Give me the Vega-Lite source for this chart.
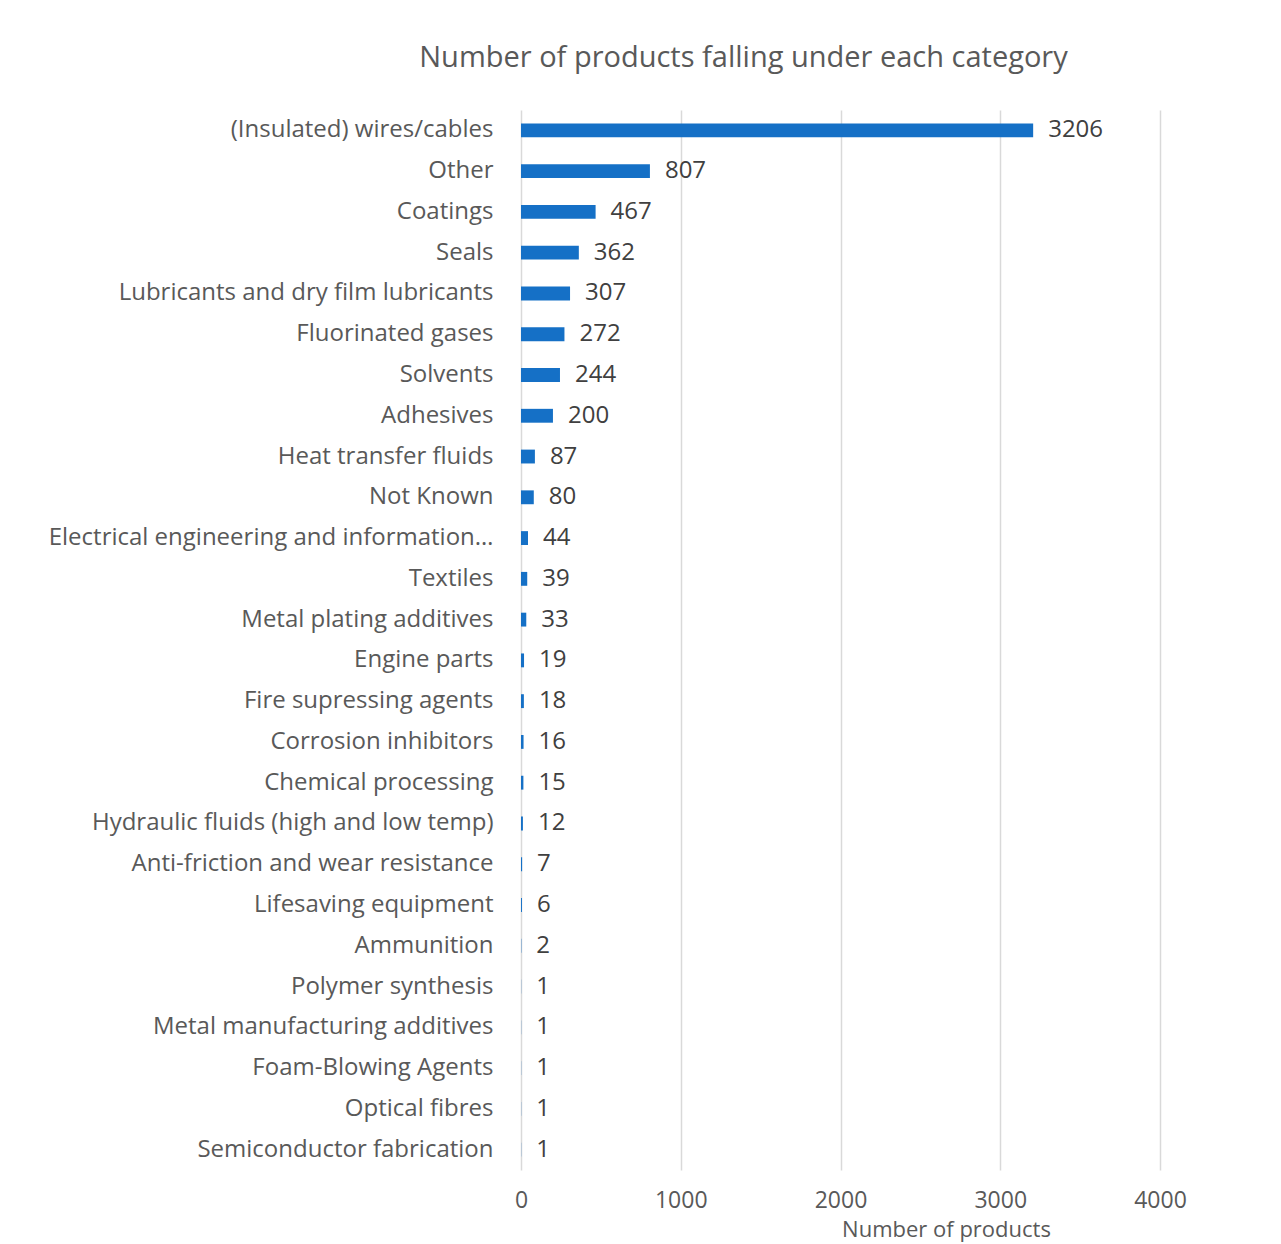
{
  "$schema": "https://vega.github.io/schema/vega-lite/v6.json",
  "width": 639,
  "height": 1060,
  "autosize": "none",
  "padding": {"left": 521, "top": 110, "right": 121, "bottom": 74},
  "background": "white",
  "config": {"view": {"stroke": null}, "font": "Open Sans"},
  "title": {
    "text": "Number of products falling under each category",
    "font": "Open Sans",
    "fontSize": 29,
    "fontWeight": "normal",
    "color": "#595959",
    "anchor": "middle",
    "dx": -97,
    "offset": 37
  },
  "data": {
    "values": [
      {"category": "(Insulated) wires/cables", "count": 3206},
      {"category": "Other", "count": 807},
      {"category": "Coatings", "count": 467},
      {"category": "Seals", "count": 362},
      {"category": "Lubricants and dry film lubricants", "count": 307},
      {"category": "Fluorinated gases", "count": 272},
      {"category": "Solvents", "count": 244},
      {"category": "Adhesives", "count": 200},
      {"category": "Heat transfer fluids", "count": 87},
      {"category": "Not Known", "count": 80},
      {"category": "Electrical engineering and information…", "count": 44},
      {"category": "Textiles", "count": 39},
      {"category": "Metal plating additives", "count": 33},
      {"category": "Engine parts", "count": 19},
      {"category": "Fire supressing agents", "count": 18},
      {"category": "Corrosion inhibitors", "count": 16},
      {"category": "Chemical processing", "count": 15},
      {"category": "Hydraulic fluids (high and low temp)", "count": 12},
      {"category": "Anti-friction and wear resistance", "count": 7},
      {"category": "Lifesaving equipment", "count": 6},
      {"category": "Ammunition", "count": 2},
      {"category": "Polymer synthesis", "count": 1},
      {"category": "Metal manufacturing additives", "count": 1},
      {"category": "Foam-Blowing Agents", "count": 1},
      {"category": "Optical fibres", "count": 1},
      {"category": "Semiconductor fabrication", "count": 1}
    ]
  },
  "encoding": {
    "y": {
      "field": "category",
      "type": "nominal",
      "sort": null,
      "scale": {"paddingInner": 0.66, "paddingOuter": 0.33},
      "axis": {
        "title": null,
        "domain": false,
        "ticks": false,
        "labelPadding": 28,
        "labelFont": "Open Sans",
        "labelFontSize": 24,
        "labelColor": "#595959",
        "labelLimit": 520
      }
    },
    "x": {
      "field": "count",
      "type": "quantitative",
      "scale": {"domain": [0, 4000], "nice": false},
      "axis": {
        "values": [0, 1000, 2000, 3000, 4000],
        "format": "d",
        "labelFlush": false,
        "domain": false,
        "ticks": false,
        "grid": true,
        "gridColor": "#d9d9d9",
        "gridWidth": 1.5,
        "labelPadding": 19,
        "labelFont": "Open Sans",
        "labelFontSize": 23,
        "labelColor": "#595959",
        "title": "Number of products",
        "titleFont": "Open Sans",
        "titleFontSize": 22,
        "titleFontWeight": "normal",
        "titleColor": "#595959",
        "titleX": 425,
        "titlePadding": 7
      }
    }
  },
  "layer": [
    {"mark": {"type": "bar", "color": "#1570c6"}},
    {
      "mark": {"type": "text", "align": "left", "dx": 15, "fontSize": 24, "font": "Open Sans", "color": "#404040"},
      "encoding": {"text": {"field": "count", "type": "quantitative"}}
    }
  ]
}
